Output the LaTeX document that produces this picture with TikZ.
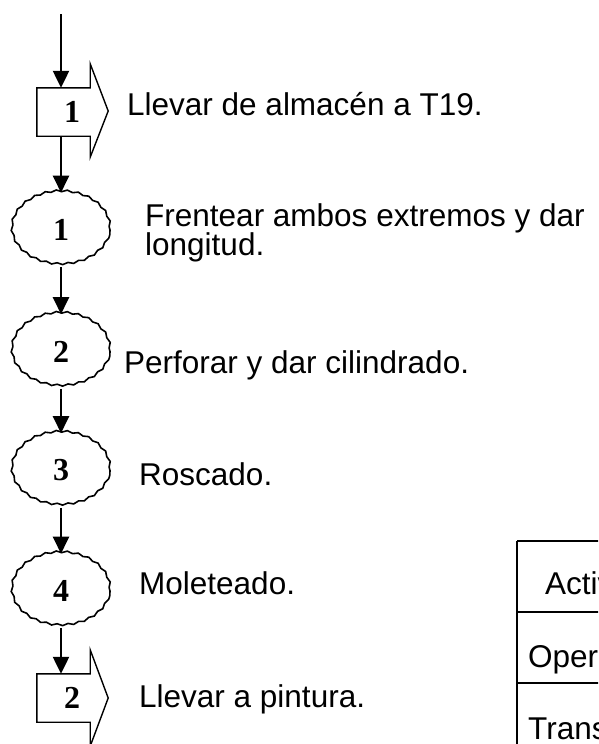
\documentclass[tikz,border=0pt]{standalone}
\usepackage{fontspec}
\setmainfont{Liberation Sans}
\newfontfamily\numfont{Liberation Serif}
\usetikzlibrary{arrows.meta,shapes.geometric,decorations.pathmorphing}
\tikzset{
  flow/.style={line width=2.3pt,-{Triangle[width=16pt,length=17pt]}},
  shapeline/.style={line width=1.4pt,line join=miter},
  opnode/.style={ellipse,draw,line width=1.6pt,minimum width=98pt,minimum height=73pt,inner sep=0pt,
     decorate,decoration={snake,segment length=11pt,amplitude=0.9pt},
     font=\numfont\bfseries\fontsize{32}{32}\selectfont},
  tbody/.style={rectangle,minimum width=53pt,minimum height=48pt,inner sep=0pt,
     font=\numfont\bfseries\fontsize{32}{32}\selectfont},
  desc/.style={anchor=base west,inner sep=0pt,font=\fontsize{31.5}{29}\selectfont},
  tabtxt/.style={anchor=base west,inner sep=0pt,font=\fontsize{31.5}{29}\selectfont},
  tabline/.style={line width=1.1pt}
}
\begin{document}
\begin{tikzpicture}[x=1pt,y=-1pt]
\useasboundingbox (0,0) rectangle (598,744);
\fill[white] (0,0) rectangle (598,744);
\clip (0,0) rectangle (598,744);

% transport 1
\coordinate (start) at (61,14);
\node[tbody] (t1) at (63.5,112) {\hspace*{17pt}1};
\draw[shapeline] (t1.north west) -- (t1.north east) -- ([yshift=24pt]t1.north east)
  -- ([xshift=18pt,yshift=1pt]t1.east) -- ([yshift=-21pt]t1.south east) -- (t1.south east)
  -- (t1.south west) -- cycle;

% operations
\node[opnode] (o1) at (61,230) {1};
\node[opnode] (o2) at (61,351.5) {2};
\node[opnode] (o3) at (61,470.5) {3};
\node[opnode] (o4) at (61,591) {4};

% transport 2
\node[tbody] (t2) at (63.5,698) {\hspace*{17pt}2};
\draw[shapeline] (t2.north west) -- (t2.north east) -- ([yshift=24pt]t2.north east)
  -- ([xshift=18pt]t2.east) -- ([yshift=-24pt]t2.south east) -- (t2.south east)
  -- (t2.south west) -- cycle;

% connectors
\draw[flow] (start) -- (start |- t1.north);
\draw[flow] (start |- t1.south) -- (o1.north);
\draw[flow] (o1.south) -- (o2.north);
\draw[flow] (o2.south) -- (o3.north);
\draw[flow] (o3.south) -- (o4.north);
\draw[flow] (o4.south) -- (start |- t2.north);

% descriptions
\node[desc] (d1) at (127,115) {Llevar de almacén a T19.};
\node[desc] (d2) at (145,226.7) {Frentear ambos extremos y dar};
\node[desc] (d2b) at (145,255.7) {longitud.};
\node[desc] (d3) at (124,373) {Perforar y dar cilindrado.};
\node[desc] (d4) at (139,485) {Roscado.};
\node[desc] (d5) at (139,594) {Moleteado.};
\node[desc] (d6) at (139,707) {Llevar a pintura.};

% table (cut off at the right and bottom edges, as in the reference)
\draw[tabline] (517,541) -- (620,541);
\draw[tabline] (517,612) -- (620,612);
\draw[tabline] (517,683) -- (620,683);
\draw[tabline] (517,541) -- (517,760);
\node[tabtxt] (h1) at (545,594) {Actividad};
\node[tabtxt] (r1) at (528,667) {Operación};
\node[tabtxt] (r2) at (528,739) {Transporte};
\end{tikzpicture}
\end{document}
